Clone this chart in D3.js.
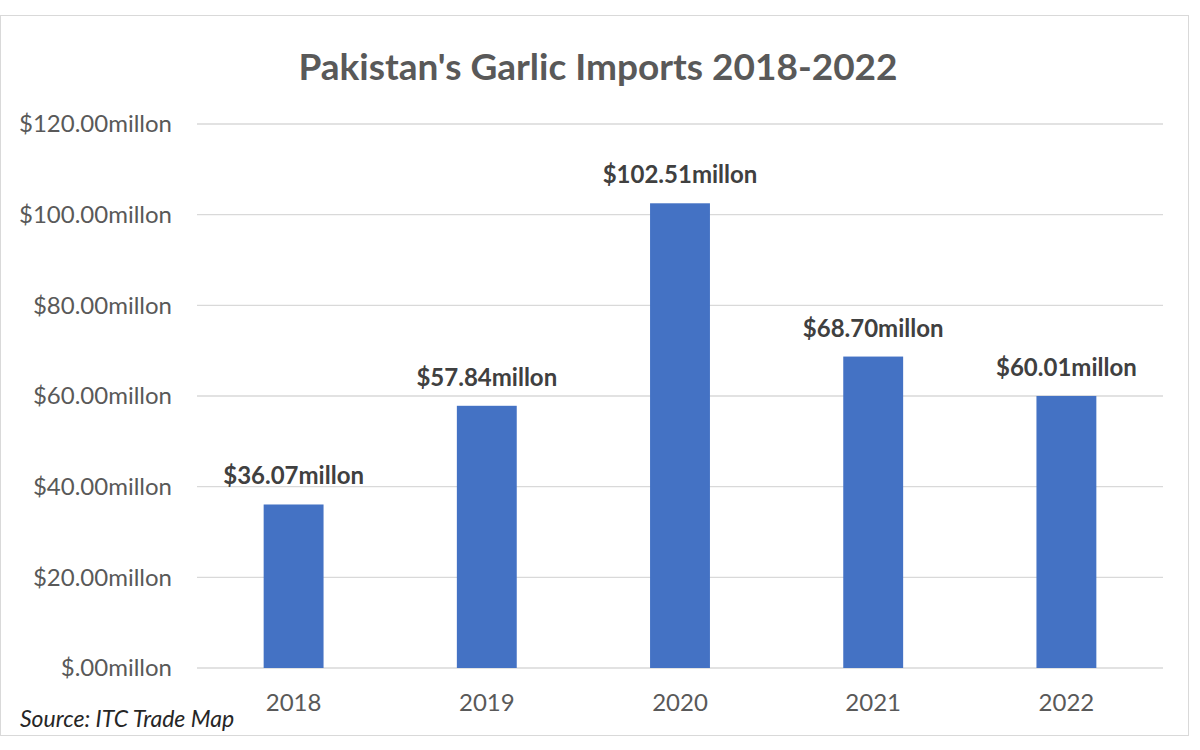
<!DOCTYPE html>
<html>
<head>
<meta charset="utf-8">
<script src="https://cdn.jsdelivr.net/npm/d3@7"></script>
<style>
  body { margin: 0; background: #fff; }
  svg text { font-family: Lato, "Open Sans", sans-serif; }
</style>
</head>
<body>
<div id="chart"></div>
<script>
const years = ['2018', '2019', '2020', '2021', '2022']
const imports = [36.07, 57.84, 102.51, 68.70, 60.01]
const yTicks = [0, 20, 40, 60, 80, 100, 120]

const W = 1200, H = 750
const margin = { top: 124, right: 37, bottom: 82, left: 197 }
const width = W - margin.left - margin.right
const height = H - margin.top - margin.bottom

const fmtTick = v => '$' + (v === 0 ? '.00' : v.toFixed(2)) + 'millon'
const fmtLabel = v => '$' + v.toFixed(2) + 'millon'

const svg = d3.select('#chart')
  .append('svg')
    .attr('width', W)
    .attr('height', H)

// chart frame
svg.append('rect')
  .attr('x', 0.5).attr('y', 15.5)
  .attr('width', 1188).attr('height', 720)
  .attr('fill', '#fff')
  .attr('stroke', '#d9d9d9')

svg.append('text')
  .attr('x', 598).attr('y', 80)
  .attr('text-anchor', 'middle')
  .style('font-size', '37px')
  .style('font-weight', 'bold')
  .style('fill', '#595959')
  .text("Pakistan's Garlic Imports 2018-2022")

const g = svg.append('g')
  .attr('transform', `translate(${margin.left}, ${margin.top})`)

const x = d3.scaleBand()
  .domain(years)
  .range([0, width])
  .paddingInner(0.69)
  .paddingOuter(0.345)

const y = d3.scaleLinear()
  .domain([0, 120])
  .range([height, 0])

// gridlines
g.selectAll('line.grid')
  .data(yTicks)
  .enter()
  .append('line')
    .attr('class', 'grid')
    .attr('x1', 0).attr('x2', width)
    .attr('y1', d => y(d)).attr('y2', d => y(d))
    .attr('stroke', '#d9d9d9')
    .attr('stroke-width', 1.3)

// y axis labels
const yAxis = d3.axisLeft(y)
  .tickValues(yTicks)
  .tickFormat(fmtTick)
  .tickSize(0)
  .tickPadding(25)

g.append('g')
  .call(yAxis)
  .call(a => a.select('.domain').remove())
  .selectAll('text')
    .style('font-size', '24px')
    .style('fill', '#595959')
    .style('font-family', 'Lato, sans-serif')

// x axis labels
const xAxis = d3.axisBottom(x)
  .tickSize(0)
  .tickPadding(26)

g.append('g')
  .attr('transform', `translate(0, ${height})`)
  .call(xAxis)
  .call(a => a.select('.domain').remove())
  .selectAll('text')
    .style('font-size', '24px')
    .style('fill', '#595959')
    .style('font-family', 'Lato, sans-serif')

// bars
g.selectAll('rect.bar')
  .data(imports)
  .enter()
  .append('rect')
    .attr('class', 'bar')
    .attr('x', (d, i) => x(years[i]))
    .attr('y', d => y(d))
    .attr('width', x.bandwidth())
    .attr('height', d => height - y(d))
    .attr('fill', '#4472c4')

// value labels
g.selectAll('text.value')
  .data(imports)
  .enter()
  .append('text')
    .attr('class', 'value')
    .attr('x', (d, i) => x(years[i]) + x.bandwidth() / 2)
    .attr('y', d => y(d) - 20)
    .attr('text-anchor', 'middle')
    .style('font-size', '24px')
    .style('font-weight', 'bold')
    .style('fill', '#404040')
    .text(fmtLabel)

svg.append('text')
  .attr('x', 20).attr('y', 727)
  .style('font-size', '23px')
  .style('font-style', 'italic')
  .style('fill', '#262626')
  .text('Source: ITC Trade Map')
</script>
</body>
</html>
